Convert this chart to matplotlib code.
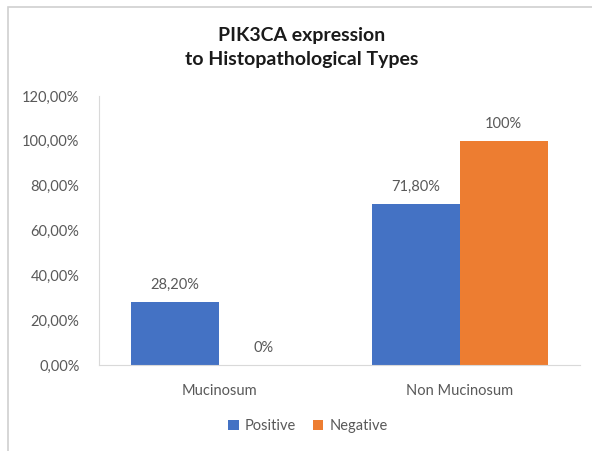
import matplotlib.pyplot as plt
from matplotlib.patches import Rectangle
from matplotlib.ticker import FuncFormatter

plt.rcParams['font.family'] = ['Lato', 'DejaVu Sans']

# data
categories = ['Mucinosum', 'Non Mucinosum']
positive = [28.2, 71.8]
negative = [0.0, 100.0]
positive_labels = ['28,20%', '71,80%']
negative_labels = ['0%', '100%']
y_ticks = [0, 20, 40, 60, 80, 100, 120]

blue = '#4472C4'
orange = '#ED7D31'
grey_text = '#595959'

fig = plt.figure(figsize=(5.92, 4.51), dpi=100)
ax = fig.add_axes([0.1672, 0.1907, 0.8125, 0.5964])

# outer chart frame (cut off at right and bottom like the screenshot)
fig.patches.append(Rectangle((8 / 592, -0.1), 1.2, 1.1 - 7 / 451,
                             transform=fig.transFigure, fill=False,
                             edgecolor='#D0D0D0', linewidth=1.2))

x = range(len(categories))
w = 0.366
b1 = ax.bar([i - w / 2 for i in x], positive, width=w, color=blue, label='Positive')
b2 = ax.bar([i + w / 2 for i in x], negative, width=w, color=orange, label='Negative')

for rect, txt in zip(b1, positive_labels):
    ax.text(rect.get_x() + rect.get_width() / 2, rect.get_height() + 4.5, txt,
            ha='center', va='bottom', fontsize=10.5, color=grey_text)
for rect, txt in zip(b2, negative_labels):
    ax.text(rect.get_x() + rect.get_width() / 2, rect.get_height() + 4.5, txt,
            ha='center', va='bottom', fontsize=10.5, color=grey_text)

ax.set_xlim(-0.5, 1.5)
ax.set_ylim(0, 120)
ax.set_yticks(y_ticks)
ax.yaxis.set_major_formatter(FuncFormatter(lambda v, p: f'{v:.2f}'.replace('.', ',') + '%'))
ax.set_xticks(list(x))
ax.set_xticklabels(categories)
ax.tick_params(axis='both', length=0, labelsize=10.5, colors=grey_text)
ax.tick_params(axis='x', pad=14)
ax.tick_params(axis='y', pad=14)

for s in ['top', 'right']:
    ax.spines[s].set_visible(False)
ax.spines['bottom'].set_color('#D9D9D9')
ax.spines['left'].set_color('#D9D9D9')

fig.text(302 / 592, 1 - 48 / 451, 'PIK3CA expression\nto Histopathological Types',
         ha='center', va='center', fontsize=14, fontweight='bold',
         color='#1A1A1A', linespacing=1.5)

fig.legend(loc='center', bbox_to_anchor=(308 / 592, 1 - 426 / 451), ncol=2,
           frameon=False, fontsize=10.5, handlelength=0.7, handleheight=0.7,
           handletextpad=0.4, columnspacing=1.2, labelcolor=grey_text)

plt.savefig('out.png', dpi=100)
